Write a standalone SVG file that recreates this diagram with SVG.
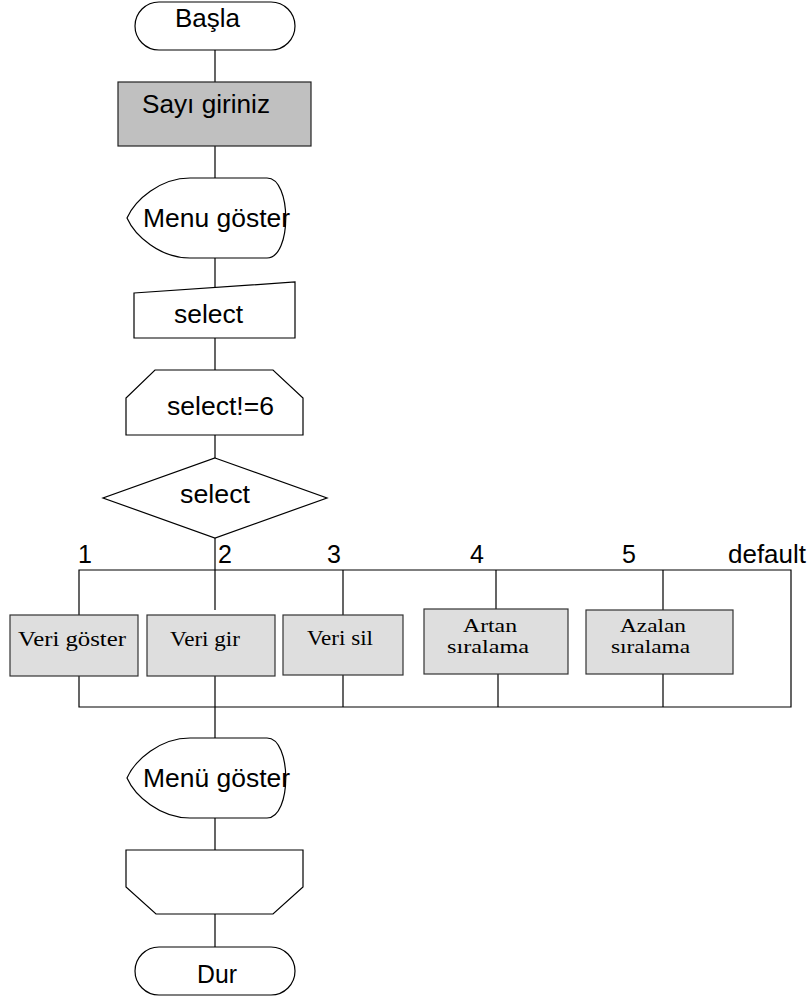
<svg xmlns="http://www.w3.org/2000/svg" width="812" height="999" viewBox="0 0 812 999">
<style>
.s{fill:#fff;stroke:#000;stroke-width:1.2}
.g1{fill:#c0c0c0;stroke:#222;stroke-width:1.2}
.g2{fill:#dedede;stroke:#333;stroke-width:1.2}
.c{fill:none;stroke:#000;stroke-width:1.2}
.a{font-family:"Liberation Sans",Arial,sans-serif;font-size:25px;fill:#000}
.t{font-family:"Liberation Serif","Times New Roman",serif;font-size:21px;fill:#000}
.t2{font-family:"Liberation Serif","Times New Roman",serif;font-size:19px;fill:#000}
</style>
<rect width="812" height="999" fill="#fff"/>
<g id="connectors">
<path class="c" d="M215,50V82M215,146V178M215,258V288M215,338V370M215,435V458M215,538V610M215,676V738M215,818V850M215,914V947"/>
<path class="c" d="M79,570H791V707H79ZM79,570V615M79,676V707M343,570V615M343,675V707M496,570V609M498,674V707M663,570V610M663,674V707"/>
</g>
<g id="start">
<rect class="s" x="135" y="2" width="160" height="48" rx="24"/>
<text class="a" x="175" y="27" textLength="65" lengthAdjust="spacingAndGlyphs">Başla</text>
</g>
<g id="input-number">
<rect class="g1" x="118" y="82" width="193" height="64"/>
<text class="a" x="142" y="113" textLength="128" lengthAdjust="spacingAndGlyphs">Sayı giriniz</text>
</g>
<g id="display-menu">
<path class="s" d="M190,178H267C292,178 292,258 267,258H190C160,258 135,236 127,218C135,200 160,178 190,178Z"/>
<text class="a" x="143" y="227" textLength="147" lengthAdjust="spacingAndGlyphs">Menu göster</text>
</g>
<g id="manual-select">
<path class="s" d="M134,293L295,282V338H134Z"/>
<text class="a" x="174" y="323" textLength="69" lengthAdjust="spacingAndGlyphs">select</text>
</g>
<g id="loop-start">
<path class="s" d="M155,370H273L303,398V435H126V398Z"/>
<text class="a" x="167" y="415" textLength="107" lengthAdjust="spacingAndGlyphs">select!=6</text>
</g>
<g id="decision">
<path class="s" d="M215,458L327,498L215,538L103,498Z"/>
<text class="a" x="180" y="503" textLength="70" lengthAdjust="spacingAndGlyphs">select</text>
</g>
<g id="case-labels">
<text class="a" x="78" y="563">1</text>
<text class="a" x="218" y="563">2</text>
<text class="a" x="327" y="563">3</text>
<text class="a" x="470" y="563">4</text>
<text class="a" x="622" y="563">5</text>
<text class="a" x="728" y="563" textLength="78" lengthAdjust="spacingAndGlyphs">default</text>
</g>
<g id="veri-goster">
<rect class="g2" x="10" y="615" width="128" height="61"/>
<text class="t" x="18" y="646" textLength="108" lengthAdjust="spacingAndGlyphs">Veri göster</text>
</g>
<g id="veri-gir">
<rect class="g2" x="147" y="615" width="128" height="61"/>
<text class="t" x="170" y="646" textLength="70" lengthAdjust="spacingAndGlyphs">Veri gir</text>
</g>
<g id="veri-sil">
<rect class="g2" x="283" y="615" width="120" height="60"/>
<text class="t" x="307" y="645" textLength="66" lengthAdjust="spacingAndGlyphs">Veri sil</text>
</g>
<g id="artan">
<rect class="g2" x="424" y="609" width="144" height="65"/>
<text class="t2" x="463" y="632" textLength="54" lengthAdjust="spacingAndGlyphs">Artan</text>
<text class="t2" x="447" y="653" textLength="82" lengthAdjust="spacingAndGlyphs">sıralama</text>
</g>
<g id="azalan">
<rect class="g2" x="586" y="610" width="147" height="64"/>
<text class="t2" x="620" y="632" textLength="66" lengthAdjust="spacingAndGlyphs">Azalan</text>
<text class="t2" x="611" y="653" textLength="79" lengthAdjust="spacingAndGlyphs">sıralama</text>
</g>
<g id="display-menu-2">
<path class="s" d="M190,738H267C292,738 292,818 267,818H190C160,818 135,796 127,778C135,760 160,738 190,738Z"/>
<text class="a" x="143" y="787" textLength="147" lengthAdjust="spacingAndGlyphs">Menü göster</text>
</g>
<g id="loop-end">
<path class="s" d="M126,850H303V887L273,914H156L126,887Z"/>
</g>
<g id="stop">
<rect class="s" x="135" y="947" width="160" height="48" rx="24"/>
<text class="a" x="197" y="983" textLength="40" lengthAdjust="spacingAndGlyphs">Dur</text>
</g>
</svg>
